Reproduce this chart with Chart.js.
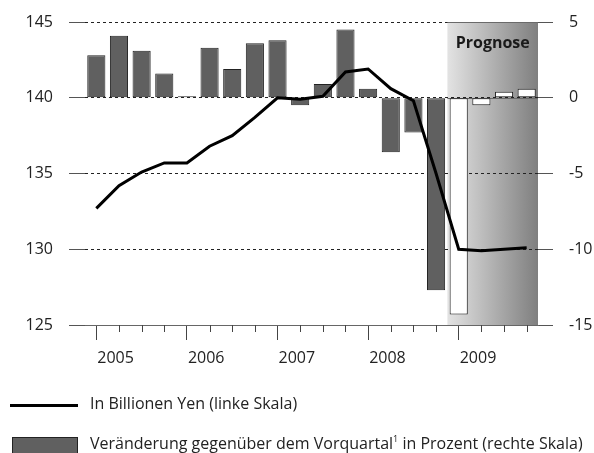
<!DOCTYPE html>
<html>
<head>
<meta charset="utf-8">
<script src="https://cdn.jsdelivr.net/npm/chart.js@4.4.1/dist/chart.umd.min.js"></script>
<style>
  body { margin: 0; background: #fff; font-family: "Open Sans", sans-serif; color: #222; }
  #wrap { position: relative; width: 594px; height: 453px; }
  #chart { position: absolute; left: 0; top: 0; }
  .leg { position: absolute; left: 90px; font-size: 16px; line-height: 20px; white-space: nowrap; }
  .sw-line { position: absolute; left: 10px; top: 404px; width: 68px; height: 3px; background: #000; }
  .sw-bar { position: absolute; left: 12px; top: 437px; width: 64px; height: 15px; background: #606060; border: 1px solid #222; }
  sup { font-size: 9px; vertical-align: 7px; line-height: 0; }
</style>
</head>
<body>
<div id="wrap">
  <canvas id="chart" width="594" height="453"></canvas>
  <div class="sw-line"></div>
  <div class="leg" style="top:393px">In Billionen Yen (linke Skala)</div>
  <div class="sw-bar"></div>
  <div class="leg" style="top:433px">Veränderung gegenüber dem Vorquartal<sup>1</sup> in Prozent (rechte Skala)</div>
</div>
<script>
// quarters 2005 - 2009
const quarters = [
  'Q1 2005', 'Q2 2005', 'Q3 2005', 'Q4 2005',
  'Q1 2006', 'Q2 2006', 'Q3 2006', 'Q4 2006',
  'Q1 2007', 'Q2 2007', 'Q3 2007', 'Q4 2007',
  'Q1 2008', 'Q2 2008', 'Q3 2008', 'Q4 2008',
  'Q1 2009', 'Q2 2009', 'Q3 2009', 'Q4 2009'
];
// Billionen Yen (linke Skala)
const yenLevel = [
  132.7, 134.2, 135.1, 135.7,
  135.7, 136.8, 137.5, 138.7,
  140.0, 139.9, 140.1, 141.7,
  141.9, 140.6, 139.8, 135.0,
  130.0, 129.9, 130.0, 130.1
];
// Veränderung gegenüber Vorquartal in % (rechte Skala)
const qoqChange = [
  2.8, 4.1, 3.1, 1.6,
  0.1, 3.3, 1.9, 3.6,
  3.8, -0.5, 0.9, 4.5,
  0.6, -3.6, -2.3, -12.7,
  -14.3, -0.5, 0.4, 0.6
];
const leftTicks = [125, 130, 135, 140, 145];
const rightTicks = [-15, -10, -5, 0, 5];
const forecastFrom = 'Q1 2009';
const forecastLabel = 'Prognose';

const forecastIdx = quarters.indexOf(forecastFrom);
const FONT = '"Open Sans", sans-serif';

const forecastPlugin = {
  id: 'forecast',
  beforeDraw(chart) {
    const { ctx, chartArea, scales } = chart;
    const x0 = (scales.x.getPixelForValue(forecastIdx - 1) + scales.x.getPixelForValue(forecastIdx)) / 2;
    const x1 = chartArea.right;
    const g = ctx.createLinearGradient(x0, 0, x1, 0);
    g.addColorStop(0, '#e3e3e3');
    g.addColorStop(1, '#7f7f7f');
    ctx.save();
    ctx.fillStyle = g;
    ctx.fillRect(x0, chartArea.top, x1 - x0, chartArea.bottom - chartArea.top);
    ctx.fillStyle = '#1a1a1a';
    ctx.font = 'bold 16px ' + FONT;
    ctx.textAlign = 'center';
    ctx.textBaseline = 'middle';
    ctx.fillText(forecastLabel, (x0 + x1) / 2, chartArea.top + 21);
    ctx.restore();
  },
  beforeDatasetsDraw(chart) {
    const { ctx, chartArea, scales } = chart;
    const x0 = (scales.x.getPixelForValue(forecastIdx - 1) + scales.x.getPixelForValue(forecastIdx)) / 2;
    ctx.save();
    ctx.strokeStyle = '#6a6a6a';
    ctx.lineWidth = 1;
    [scales.y1.getPixelForValue(0), scales.y1.getPixelForValue(5)].forEach(py => {
      const y = Math.round(py) + 0.5;
      ctx.beginPath();
      ctx.moveTo(x0, y);
      ctx.lineTo(chartArea.right, y);
      ctx.stroke();
    });
    ctx.restore();
  },
  afterDraw(chart) {
    // short ticks for the quarters
    const { ctx, chartArea, scales } = chart;
    ctx.save();
    ctx.strokeStyle = '#444';
    ctx.lineWidth = 1;
    quarters.forEach((q, i) => {
      if (i % 4 === 0) return;
      const x = Math.round(scales.x.getPixelForValue(i)) + 0.5;
      ctx.beginPath();
      ctx.moveTo(x, chartArea.bottom);
      ctx.lineTo(x, chartArea.bottom + 7);
      ctx.stroke();
    });
    ctx.restore();
  }
};

new Chart(document.getElementById('chart'), {
  data: {
    labels: quarters,
    datasets: [
      {
        type: 'line',
        label: 'In Billionen Yen (linke Skala)',
        data: yenLevel,
        yAxisID: 'y',
        borderColor: '#000',
        borderWidth: 3,
        pointRadius: 0,
        tension: 0,
        order: 0
      },
      {
        type: 'bar',
        label: 'Veränderung gegenüber dem Vorquartal in Prozent (rechte Skala)',
        data: qoqChange,
        yAxisID: 'y1',
        backgroundColor: c => c.dataIndex >= forecastIdx ? '#ffffff' : '#606060',
        borderColor: '#222',
        borderWidth: 1,
        borderSkipped: false,
        categoryPercentage: 1,
        barPercentage: 0.8,
        order: 1
      }
    ]
  },
  options: {
    responsive: false,
    animation: false,
    layout: { padding: { top: 22, bottom: 83, left: 0, right: 0 } },
    plugins: {
      legend: { display: false },
      tooltip: { enabled: false }
    },
    scales: {
      x: {
        offset: true,
        afterFit: s => { s.height = 45; },
        grid: {
          offset: false,
          drawOnChartArea: false,
          tickLength: 15,
          color: c => c.index % 4 === 0 ? '#444' : 'rgba(0,0,0,0)'
        },
        border: { display: true, color: '#666', width: 1 },
        ticks: {
          autoSkip: false,
          maxRotation: 0,
          align: 'start',
          labelOffset: 1,
          padding: 9,
          color: '#222',
          font: { family: FONT, size: 16 },
          callback: function (v, i) {
            const q = quarters[i];
            return q.startsWith('Q1') ? q.slice(3) : '';
          }
        }
      },
      y: {
        position: 'left',
        min: 125,
        max: 145,
        afterFit: s => { s.width = 85; s.paddingTop = 0; s.paddingBottom = 0; },
        afterBuildTicks: s => { s.ticks = leftTicks.map(v => ({ value: v })); },
        grid: {
          color: '#222',
          tickColor: '#555',
          tickLength: 16,
          tickBorderDash: []
        },
        border: { display: false, dash: [3, 3] },
        ticks: {
          padding: 16,
          color: '#222',
          font: { family: FONT, size: 16 }
        }
      },
      y1: {
        position: 'right',
        min: -15,
        max: 5,
        afterFit: s => { s.width = 56; s.paddingTop = 0; s.paddingBottom = 0; },
        afterBuildTicks: s => { s.ticks = rightTicks.map(v => ({ value: v })); },
        grid: {
          drawOnChartArea: false,
          tickColor: '#555',
          tickLength: 15
        },
        border: { display: false },
        ticks: {
          padding: 16,
          color: '#222',
          font: { family: FONT, size: 16 }
        }
      }
    }
  },
  plugins: [forecastPlugin]
});
</script>
</body>
</html>
